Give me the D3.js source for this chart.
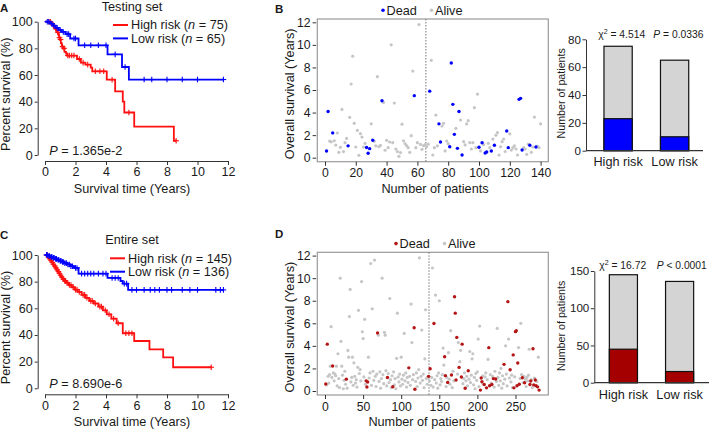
<!DOCTYPE html>
<html><head><meta charset="utf-8">
<script src="https://cdn.jsdelivr.net/npm/d3@7"></script>
<style>
html,body{margin:0;padding:0;background:#fff;}
svg{display:block;}
</style></head><body>
<svg id="c" width="709" height="430"></svg>
<script>
// ---------------- DATA ----------------
const timeTicks = [0,2,4,6,8,10,12];
const survTicks = [0,20,40,60,80,100];
const yearTicks = [0,2,4,6,8,10,12];
const bPatientTicks = [0,20,40,60,80,100,120,140];
const dPatientTicks = [0,50,100,150,200,250];
const bBarTicks = [0,20,40,60,80];
const dBarTicks = [0,50,100,150];
const riskGroups = ["High risk","Low risk"];

// Panel A (Testing set) Kaplan-Meier
const kmATimesHigh = [0,0.42,0.5,0.58,0.66,0.74,0.8,0.86,0.92,0.98,1.04,1.1,1.18,1.28,1.38,1.45,2.1,2.35,2.65,3.0,3.1,4.05,4.6,5.1,5.2,5.85,8.45];
const kmASurvHigh  = [100,98.7,97.3,96,94.7,93.3,92,90.6,88,86.6,84,81.3,80,77.3,76,74.6,72,69.3,67.8,65.5,62.8,56.5,47.8,40,31.9,21.3,10.7];
const kmAEndHigh = 8.6;
const kmACensHigh = [0.25,0.35,0.55,0.7,0.85,0.95,1.02,1.15,1.25,1.5,1.6,1.75,1.9,2.25,2.5,2.8,3.3,3.6,3.85,4.4,5.5,8.6];
const kmATimesLow = [0,0.35,0.5,0.7,0.9,1.1,1.35,1.65,2.2,4.1,5.05,5.5];
const kmASurvLow  = [100,98.5,97,95.4,93.8,92.3,90.7,87.4,82.3,75.5,66,56.6];
const kmAEndLow = 11.7;
const kmACensLow = [0.15,0.25,0.45,0.6,0.8,1.0,1.2,1.45,1.55,1.9,2.0,2.6,3.0,3.5,4.0,4.6,5.25,6.5,7.0,8.0,9.0,10.0,11.7];
const kmANs = [75,65];
const kmAP = "1.365e-2";

// Panel C (Entire set) Kaplan-Meier
const kmCTimesHigh = [0,0.2,0.3,0.38,0.45,0.52,0.6,0.68,0.75,0.82,0.9,0.98,1.05,1.15,1.25,1.4,1.55,1.75,1.95,2.15,2.4,2.65,2.9,3.2,3.5,3.8,4.05,4.35,4.7,5.1,5.85,6.85,7.75,8.4];
const kmCSurvHigh  = [100,98.6,97.2,95.8,94.4,93,91.7,90.3,89,87.6,86.2,84.8,83.4,82,80.6,79.2,77.5,75.8,74,72.3,70.1,67.9,65.6,63.6,61.3,58.5,55.5,52.2,48.8,41.3,35.5,29.2,23.2,15.8];
const kmCEndHigh = 10.9;
const kmCCensHigh = [0.1,0.15,0.22,0.3,0.4,0.48,0.55,0.65,0.72,0.8,0.88,0.95,1.02,1.1,1.2,1.3,1.35,1.45,1.6,1.7,1.85,2.0,2.1,2.25,2.5,2.6,2.75,3.0,3.1,3.3,3.6,3.7,3.95,4.2,4.5,4.8,5.3,5.5,5.7,10.9];
const kmCTimesLow = [0,0.2,0.35,0.5,0.65,0.8,0.95,1.1,1.25,1.45,1.65,1.9,2.2,4.1,4.95,5.1,5.45];
const kmCSurvLow  = [100,99.3,98.6,97.9,97.1,96.4,95.6,94.8,93.9,92.9,91.6,90.3,86,82.8,80.5,78.5,73.8];
const kmCEndLow = 11.7;
const kmCCensLow = [0.1,0.15,0.25,0.3,0.4,0.45,0.55,0.6,0.7,0.75,0.85,0.9,1.0,1.05,1.15,1.2,1.3,1.4,1.5,1.6,1.7,1.8,2.0,2.1,2.4,2.6,2.8,3.0,3.2,3.5,3.8,4.0,4.4,4.6,4.8,5.2,5.35,5.7,6.0,6.5,6.9,7.2,7.5,8.0,8.3,9.0,9.5,10.0,11.2,11.5,11.7];
const kmCNs = [145,136];
const kmCP = "8.690e-6";

// Panel B scatter (testing set, 140 patients; low risk 1-65)
const bYears = [0.6,4.1,1.47,1.41,2.2,1.5,1.12,2.19,0.48,0.92,
 4.28,0.54,1.33,1.71,1.05,3.58,6.53,9.0,3.05,0.95,
 2.42,0.21,2.13,1.83,0.95,1.27,0.9,0.4,0.8,3.0,
 1.55,1.45,1.05,7.18,0.98,1.1,5.05,4.9,0.66,1.54,
 0.89,1.39,10.0,1.33,4.85,0.77,0.54,0.12,0.45,2.97,
 1.5,1.24,1.07,0.89,0.48,1.95,7.68,5.5,0.89,1.33,
 11.8,1.18,0.74,1.07,1.15,
 0.97,1.2,5.9,8.63,0.24,
 0.89,3.78,1.05,3.0,1.39,2.81,3.05,0.6,1.48,1.24,
 0.97,8.39,4.73,2.07,2.6,0.83,4.1,3.34,0.24,1.42,
 1.13,2.99,3.28,1.33,0.77,1.33,4.43,0.89,5.64,0.92,
 0.6,1.33,1.15,0.42,0.5,1.27,0.9,0.6,1.65,1.1,
 2.0,2.23,0.24,0.97,1.42,1.65,0.55,2.36,0.89,2.12,
 0.68,0.89,1.05,0.77,0.24,5.17,5.26,0.68,0.89,0.77,
 0.3,1.2,1.1,0.48,0.95,3.6,0.95,1.03,0.89,3.0];
const bDeadIdx = [1,2,5,15,27,28,29,31,37,58,68,74,75,81,82,83,84,86,87,89,100,102,104,105,108,110,118,119,126,127,128,133,137];
const bCut = 65;

// Panel D scatter (entire set, 281 patients; low risk 1-136)
const dYears = [0.62,0.55,4.15,1.3,0.7,1.45,2.2,5.7,1.2,2.22,
 1.6,0.9,1.5,1.35,2.2,0.45,3.3,1.1,0.3,10.0,
 4.4,2.2,1.4,0.2,0.95,1.75,0.6,1.05,0.25,3.6,
 3.0,6.6,9.0,0.8,1.2,3.0,0.5,2.5,1.3,0.7,
 1.0,0.35,2.1,7.15,1.55,1.9,0.9,9.7,5.25,4.65,
 1.25,6.35,0.6,0.9,0.36,0.8,3.0,1.15,1.6,11.3,
 0.5,7.28,1.75,0.95,11.6,1.3,0.4,1.5,5.15,4.95,
 0.85,1.7,0.25,1.1,10.0,1.45,0.65,5.2,4.95,1.8,
 0.45,1.2,1.55,0.75,8.2,1.0,0.3,1.35,0.38,1.7,
 0.55,1.1,0.2,2.9,6.9,1.25,0.8,1.5,0.45,3.0,
 1.05,0.6,1.4,5.1,0.9,1.6,0.35,1.2,0.75,2.05,
 1.3,0.5,7.7,4.3,1.0,1.45,5.6,0.15,0.85,1.6,
 0.4,1.15,1.9,11.8,0.7,1.3,5.4,0.95,1.5,0.3,
 2.85,7.2,1.1,0.6,1.25,1.3,
 0.9,1.97,0.5,1.2,
 10.9,0.35,5.98,1.0,8.5,0.7,1.35,0.25,1.6,8.0,
 0.55,1.1,0.85,1.45,3.8,2.3,3.03,1.36,0.4,1.2,
 0.76,3.4,1.05,0.6,5.35,1.42,0.3,1.75,0.9,8.35,
 6.9,0.97,4.75,1.5,4.3,2.09,2.6,3.6,1.24,4.15,
 0.65,1.1,1.6,0.25,0.9,1.3,0.45,1.8,1.05,3.5,
 0.75,1.4,2.85,3.3,0.55,1.2,0.2,1.55,0.95,1.7,
 4.6,0.4,5.75,0.08,1.15,0.82,1.35,0.6,0.57,1.25,
 1.6,0.28,1.0,2.8,3.84,0.46,1.45,0.7,0.57,1.3,
 1.1,0.35,1.75,1.06,0.85,5.55,1.2,0.5,1.6,0.9,
 2.0,0.25,1.35,0.65,2.36,1.05,4.0,1.5,0.45,7.92,
 4.6,1.15,1.88,0.8,1.4,0.3,3.2,0.28,1.25,5.26,
 5.35,0.46,2.48,3.85,0.6,1.1,6.0,1.45,1.18,0.75,
 1.3,0.73,1.05,0.4,1.2,0.9,1.4,3.7,0.58,0.88,
 1.0,0.3,3.75,0.54,1.15,0.97,0.46,0.85,0.37,3.0,0.08];
const dDeadIdx = [1,3,10,28,54,55,56,69,82,89,110,117,118,136,138,143,157,158,161,166,170,171,172,173,176,179,180,184,188,204,205,206,209,212,215,216,219,221,224,235,240,243,247,248,250,251,252,253,255,259,262,269,270,273,274,276,277,279,281];
const dCut = 136;

// Bar charts
const bBarTotals = [75,65];
const bBarDead = [23,10];
const bChi = "4.514", bBarP = "= 0.0336";
const dBarTotals = [145,136];
const dBarDead = [45,15];
const dChi = "16.72", dBarP = "< 0.0001";

// ---------------- DRAW ----------------
const FONT = 'Arial, "Liberation Sans", Helvetica, sans-serif';
const TXT = '#1a1a1a';
const RED = '#ff1010', BLUE = '#0000ff', GRAY = '#c6c6c6', DRED = '#b51515', BARRED = '#a50000', BARGRAY = '#d4d4d4';
const svg = d3.select('#c').attr('font-family', FONT);

function styleAxis(g, fs){
  g.attr('font-family', FONT).attr('font-size', fs).attr('color', '#333');
  g.selectAll('text').attr('fill', TXT);
  g.selectAll('line,path').attr('stroke-width', 1);
}
function stepAt(ts, ss, t){ let v = ss[0]; for (let i=0;i<ts.length;i++){ if (ts[i] <= t) v = ss[i]; } return v; }
function label(x, y, str, opts={}){
  const t = svg.append('text').attr('x', x).attr('y', y).text(str)
    .attr('font-size', opts.fs || 12.7).attr('fill', TXT)
    .attr('text-anchor', opts.anchor || 'start');
  if (opts.bold) t.attr('font-weight', 'bold');
  if (opts.rot) t.attr('transform', `rotate(-90,${x},${y})`);
  return t;
}

function kmPanel(c){
  const oy = c.oy;
  const x = d3.scaleLinear().domain([0,12]).range([45,228]);
  const y = d3.scaleLinear().domain([0,100]).range([oy+155, oy+21.7]);
  const g = svg.append('g');
  g.append('g').attr('transform', 'translate(37.7,0)')
    .call(d3.axisLeft(y).tickValues(survTicks).tickSize(3).tickSizeOuter(0).tickPadding(2))
    .call(a => styleAxis(a, 12.5));
  g.append('g').attr('transform', `translate(0,${oy+161})`)
    .call(d3.axisBottom(x).tickValues(timeTicks).tickSize(4).tickSizeOuter(0).tickPadding(2.5))
    .call(a => styleAxis(a, 12.5));
  const line = d3.line().x(d => x(d[0])).y(d => y(d[1])).curve(d3.curveStepAfter);
  c.series.forEach(s => {
    const pts = s.t.map((t,i) => [t, s.s[i]]);
    pts.push([s.end, s.s[s.s.length-1]]);
    g.append('path').attr('d', line(pts)).attr('fill','none').attr('stroke', s.color).attr('stroke-width', 1.8);
    const cg = g.append('g').attr('stroke', s.color).attr('stroke-width', 1.1);
    s.cens.forEach(t => {
      const cx = x(t), cy = y(stepAt(s.t, s.s, t));
      cg.append('line').attr('x1', cx-2.8).attr('x2', cx+2.8).attr('y1', cy).attr('y2', cy);
      cg.append('line').attr('x1', cx).attr('x2', cx).attr('y1', cy-2.8).attr('y2', cy+2.8);
    });
  });
  // title
  label(132, oy+10.5, c.title, {anchor:'middle'});
  // legend
  c.series.forEach((s,i) => {
    const ly = oy + 25 + i*13.4;
    g.append('line').attr('x1', c.lx).attr('x2', c.lx+15).attr('y1', ly).attr('y2', ly)
      .attr('stroke', s.color).attr('stroke-width', 2);
    const t = svg.append('text').attr('x', c.lx+18).attr('y', ly+4.4).attr('font-size', 12.7).attr('fill', TXT);
    t.append('tspan').text(riskGroups[i] + ' (');
    t.append('tspan').attr('font-style','italic').text('n');
    t.append('tspan').text(' = ' + c.ns[i] + ')');
  });
  // P value
  const pt = svg.append('text').attr('x', 49.3).attr('y', oy+155).attr('font-size', 12.7).attr('fill', TXT);
  pt.append('tspan').attr('font-style','italic').text('P');
  pt.append('tspan').text(' = ' + c.p);
  // axis labels
  label(132, oy+193, 'Survival time (Years)', {anchor:'middle'});
  label(10, oy+94.2, 'Percent survival (%)', {anchor:'middle', rot:true});
}

function scatterPanel(c){
  const oy = c.oy;
  const x = d3.scaleLinear().domain([0, c.xmax]).range([325, c.xEnd]);
  const y = d3.scaleLinear().domain([0,12]).range([oy+157.7, oy+22.3]);
  const g = svg.append('g');
  const fTop = oy+19, fBot = oy+161.7, fL = 317.3, fR = 548.3;
  g.append('rect').attr('x', fL).attr('y', fTop).attr('width', fR-fL).attr('height', fBot-fTop)
    .attr('fill','none').attr('stroke','#9a9a9a').attr('stroke-width',1.2);
  g.append('g').attr('transform', `translate(${fL-1.2},0)`)
    .call(d3.axisLeft(y).tickValues(yearTicks).tickSize(3.5).tickSizeOuter(0).tickPadding(2))
    .call(a => { styleAxis(a, 12.2); a.select('.domain').remove(); });
  g.append('g').attr('transform', `translate(0,${fBot})`)
    .call(d3.axisBottom(x).tickValues(c.ticks).tickSize(4).tickSizeOuter(0).tickPadding(3))
    .call(a => { styleAxis(a, 12.2); a.select('.domain').remove(); });
  // cut line
  g.append('line').attr('x1', x(c.cut+0.5)).attr('x2', x(c.cut+0.5)).attr('y1', fTop).attr('y2', fBot)
    .attr('stroke','#777').attr('stroke-width',1).attr('stroke-dasharray','1.5,1.5');
  const dead = new Set(c.deadIdx);
  const pts = c.years.map((v,i) => ({idx:i+1, v, dead: dead.has(i+1)}));
  g.append('g').selectAll('circle').data(pts.filter(p => !p.dead)).join('circle')
    .attr('cx', p => x(p.idx)).attr('cy', p => y(p.v)).attr('r', 1.6).attr('fill', GRAY);
  g.append('g').selectAll('circle').data(pts.filter(p => p.dead)).join('circle')
    .attr('cx', p => x(p.idx)).attr('cy', p => y(p.v)).attr('r', 1.7).attr('fill', c.deadColor);
  // legend
  g.append('circle').attr('cx', c.legX).attr('cy', oy+10.3).attr('r', 1.8).attr('fill', c.deadColor);
  label(c.legX+3.5, oy+14.5, 'Dead');
  g.append('circle').attr('cx', c.legX+48.5).attr('cy', oy+10.3).attr('r', 1.8).attr('fill', GRAY);
  label(c.legX+52, oy+14.5, 'Alive');
  label(c.xLabX, oy+193, 'Number of patients', {anchor:'middle'});
  label(294, oy+93.8, 'Overall survival (Years)', {anchor:'middle', rot:true});
}

function barPanel(c){
  const y = d3.scaleLinear().domain([0, c.ymax]).range([c.y0, c.yTop]);
  const x = d3.scaleBand().domain(riskGroups).range(c.xr).paddingInner(0.5).paddingOuter(0.25);
  const g = svg.append('g');
  g.append('g').attr('transform', `translate(${c.ax},0)`)
    .call(d3.axisLeft(y).tickValues(c.ticks).tickSize(3.5).tickSizeOuter(0).tickPadding(1.5))
    .call(a => styleAxis(a, 11.6));
  riskGroups.forEach((grp,i) => {
    g.append('rect').attr('x', x(grp)).attr('y', y(c.totals[i])).attr('width', x.bandwidth())
      .attr('height', y(0)-y(c.totals[i])).attr('fill', BARGRAY).attr('stroke','#111').attr('stroke-width',1.2);
    g.append('rect').attr('x', x(grp)).attr('y', y(c.dead[i])).attr('width', x.bandwidth())
      .attr('height', y(0)-y(c.dead[i])).attr('fill', c.deadColor).attr('stroke','#111').attr('stroke-width',1.2);
    label(x(grp)+x.bandwidth()/2, c.labY, grp, {anchor:'middle', fs:12.7});
  });
  g.append('line').attr('x1', c.ax).attr('x2', c.axEnd).attr('y1', y(0)).attr('y2', y(0)).attr('stroke','#333').attr('stroke-width',1.2);
  // title
  const t = svg.append('text').attr('x', c.tx).attr('y', c.ty).attr('font-size', 10.3).attr('fill', TXT);
  t.append('tspan').text('χ');
  t.append('tspan').attr('dy', -4).attr('font-size', 7).text('2');
  t.append('tspan').attr('dy', 4).text(' = ' + c.chi);
  const p = svg.append('text').attr('x', c.px).attr('y', c.ty).attr('font-size', 10.3).attr('fill', TXT);
  p.append('tspan').attr('font-style','italic').text('P');
  p.append('tspan').text(' ' + c.p);
  label(565.5, c.ylY, 'Number of patients', {anchor:'middle', rot:true, fs:10.7});
}

kmPanel({oy:0, title:'Testing set', lx:113, ns:kmANs, p:kmAP,
  series:[{t:kmATimesHigh, s:kmASurvHigh, end:kmAEndHigh, cens:kmACensHigh, color:RED},
          {t:kmATimesLow, s:kmASurvLow, end:kmAEndLow, cens:kmACensLow, color:BLUE}]});
kmPanel({oy:233.3, title:'Entire set', lx:110, ns:kmCNs, p:kmCP,
  series:[{t:kmCTimesHigh, s:kmCSurvHigh, end:kmCEndHigh, cens:kmCCensHigh, color:RED},
          {t:kmCTimesLow, s:kmCSurvLow, end:kmCEndLow, cens:kmCCensLow, color:BLUE}]});

scatterPanel({oy:0, xmax:140, xEnd:540.6, ticks:bPatientTicks, years:bYears, deadIdx:bDeadIdx, cut:bCut,
  deadColor:BLUE, legX:383, xLabX:435});
scatterPanel({oy:233.3, xmax:281, xEnd:539.1, ticks:dPatientTicks, years:dYears, deadIdx:dDeadIdx, cut:dCut,
  deadColor:DRED, legX:396, xLabX:422});

barPanel({ymax:80, y0:150.7, yTop:39.3, xr:[589.85,702.85], ax:586, axEnd:703, ticks:bBarTicks,
  totals:bBarTotals, dead:bBarDead, deadColor:BLUE, labY:165.8, tx:598.3, px:653.3, ty:38, chi:bChi, p:bBarP, ylY:93.3});
barPanel({ymax:150, y0:382.7, yTop:271, xr:[595.3,707.7], ax:594.3, axEnd:709, ticks:dBarTicks,
  totals:dBarTotals, dead:dBarDead, deadColor:BARRED, labY:399, tx:599.3, px:656.7, ty:269, chi:dChi, p:dBarP, ylY:325.8});

// panel letters
label(0, 11.7, 'A', {bold:true, fs:11.5});
label(275, 12.7, 'B', {bold:true, fs:11.5});
label(0, 239, 'C', {bold:true, fs:11.5});
label(275, 238.3, 'D', {bold:true, fs:11.5});
</script>
</body></html>
